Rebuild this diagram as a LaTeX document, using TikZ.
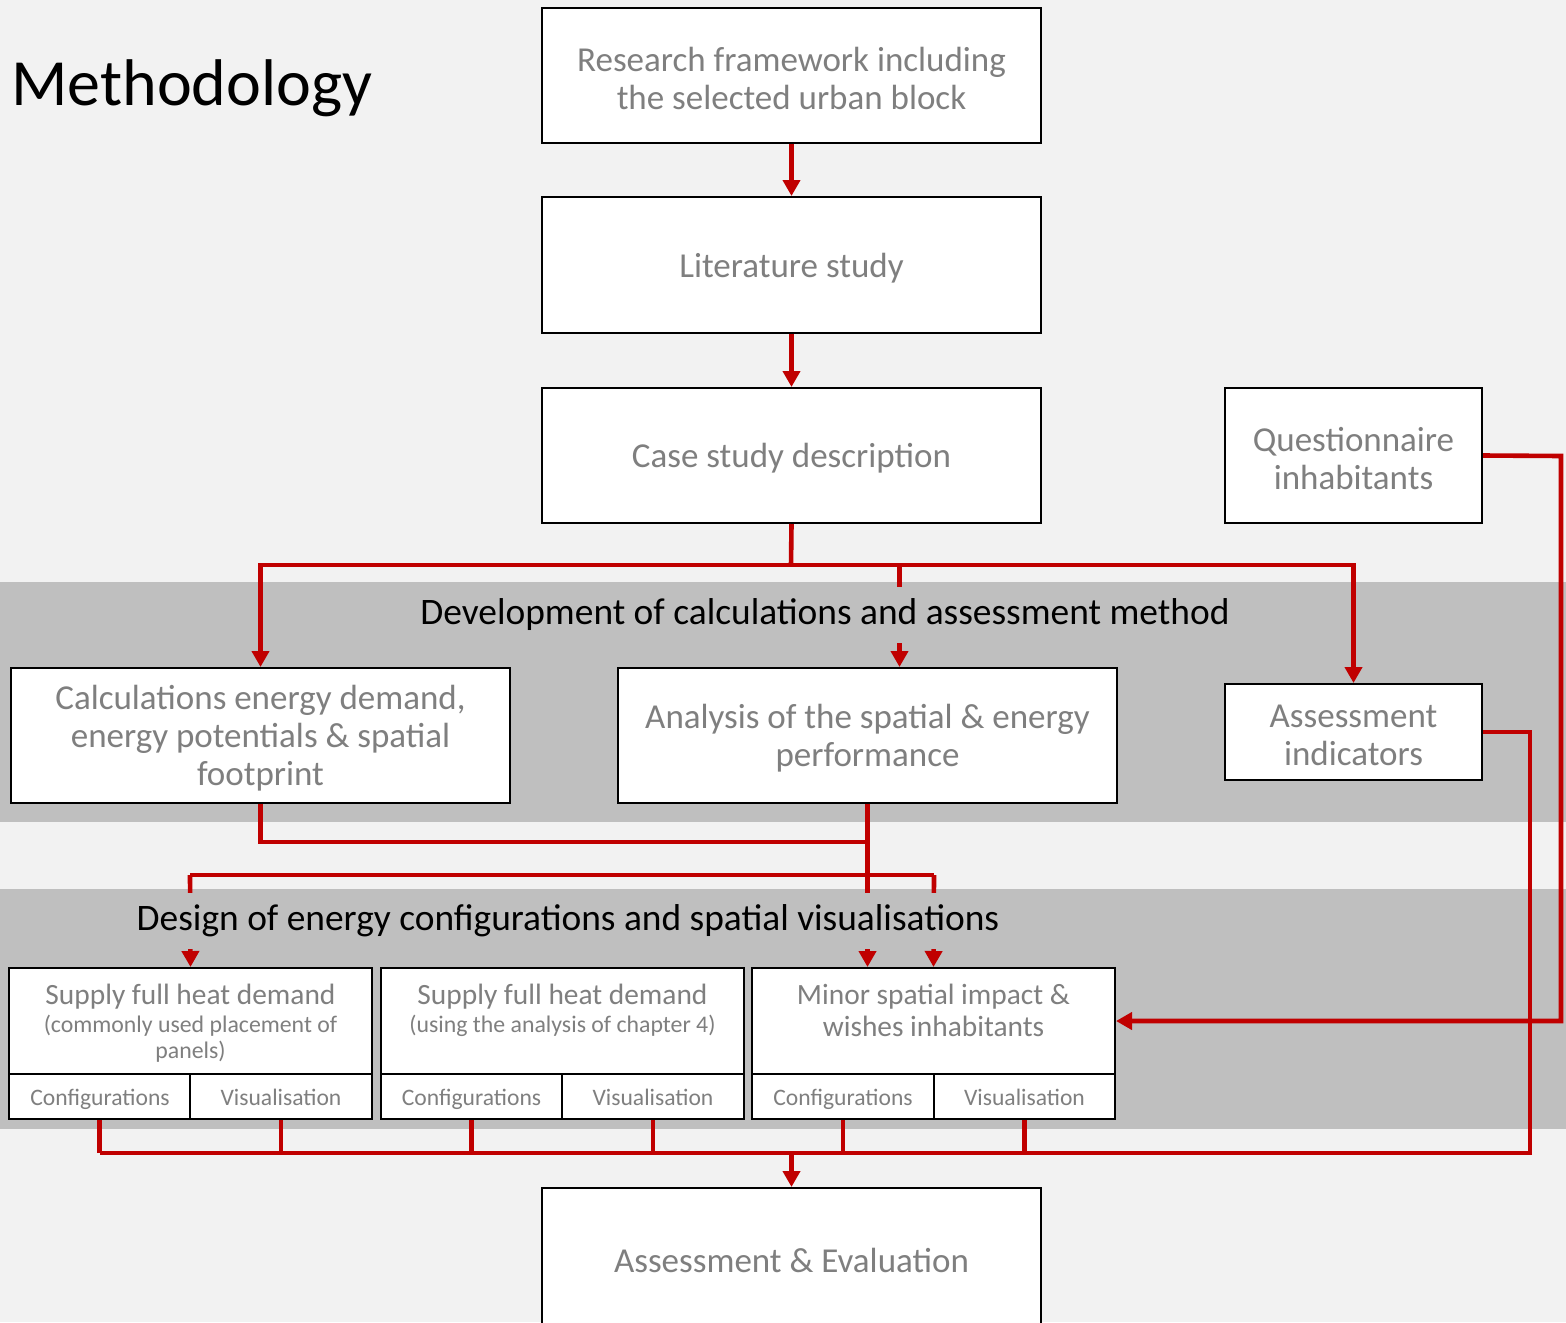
\documentclass[tikz,border=0pt]{standalone}
\usepackage{fontspec}
\setmainfont{Carlito}
\usetikzlibrary{arrows.meta,fit}
\definecolor{bgc}{HTML}{F2F2F2}
\definecolor{bandc}{HTML}{BFBFBF}
\definecolor{redc}{HTML}{C00000}
\definecolor{txtc}{HTML}{7F7F7F}
\tikzset{
  box/.style={draw=black, line width=1pt, fill=white, inner sep=0pt},
  lbl/.style={text=txtc, align=center, inner sep=0pt},
  sublbl/.style={lbl, anchor=base, font=\fontsize{11.8}{13}\selectfont},
  mainlbl/.style={lbl, yshift=-1.5pt, font=\fontsize{17.5}{19}\selectfont},
  conn/.style={draw=redc, line width=2.3pt},
  arr/.style={conn, -{Triangle[width=8.5pt,length=8pt]}},
  heading/.style={fill=bandc, text=black, inner xsep=2pt, inner ysep=6pt, font=\fontsize{18.7}{20}\selectfont}
}
\newcommand{\smallsub}{\fontsize{11.9}{13}\selectfont}
\begin{document}
\begin{tikzpicture}[x=0.5pt,y=-0.5pt]
\fill[bgc] (0,0) rectangle (1566,1322);
\useasboundingbox (0,0) rectangle (1566,1322);
\fill[bandc] (0,582) rectangle (1566,822);
\fill[bandc] (0,889) rectangle (1566,1129);

\node[anchor=base west, inner sep=0pt, font=\fontsize{33}{36}\selectfont] (title) at (11,105) {Methodology};

% boxes
\node[box, fit={(542,8) (1041,143)}] (rf) {};
\node[mainlbl] (rft) at (rf.center) {Research framework including\\the selected urban block};
\node[box, fit={(542,197) (1041,333)}] (lit) {};
\node[mainlbl] (litt) at (lit.center) {Literature study};
\node[box, fit={(542,388) (1041,523)}] (case) {};
\node[mainlbl] (caset) at (case.center) {Case study description};
\node[box, fit={(1225,388) (1482,523)}] (q) {};
\node[mainlbl] (qt) at (q.center) {Questionnaire\\inhabitants};
\node[box, fit={(11,668) (510,803)}] (calc) {};
\node[mainlbl] (calct) at (calc.center) {Calculations energy demand,\\energy potentials \& spatial\\footprint};
\node[box, fit={(618,668) (1117,803)}] (an) {};
\node[mainlbl] (ant) at (an.center) {Analysis of the spatial \& energy\\performance};
\node[box, fit={(1225,684) (1482,780)}] (ai) {};
\node[mainlbl] (ait) at (ai.center) {Assessment\\indicators};
\node[box, fit={(542,1188) (1041,1326)}] (ae) {};
\node[mainlbl] (aet) at (ae.center) {Assessment \& Evaluation};

% design boxes
\node[box, fit={(9,968) (372,1074)}] (aup) {};
\node[lbl, anchor=north, font=\fontsize{14.7}{16}\selectfont] (aupt) at (190.5,984) {Supply full heat demand\\[-2pt]\smallsub (commonly used placement of\\[-3pt]\smallsub panels)};
\node[box, fit={(9,1074) (190,1119)}] (acf) {};
\node[box, fit={(190,1074) (372,1119)}] (avs) {};
\node[sublbl] (acft) at (100,1105) {Configurations};
\node[sublbl] (avst) at (281,1105) {Visualisation};

\node[box, fit={(381,968) (744,1074)}] (bup) {};
\node[lbl, anchor=north, font=\fontsize{14.7}{16}\selectfont] (bupt) at (562.5,984) {Supply full heat demand\\[-2pt]\smallsub (using the analysis of chapter 4)};
\node[box, fit={(381,1074) (562,1119)}] (bcf) {};
\node[box, fit={(562,1074) (744,1119)}] (bvs) {};
\node[sublbl] (bcft) at (471.5,1105) {Configurations};
\node[sublbl] (bvst) at (653,1105) {Visualisation};

\node[box, fit={(752,968) (1115,1074)}] (cup) {};
\node[lbl, anchor=north, font=\fontsize{14.7}{16}\selectfont] (cupt) at (933.5,984) {Minor spatial impact \&\\wishes inhabitants};
\node[box, fit={(752,1074) (934,1119)}] (ccf) {};
\node[box, fit={(934,1074) (1115,1119)}] (cvs) {};
\node[sublbl] (ccft) at (843,1105) {Configurations};
\node[sublbl] (cvst) at (1024.5,1105) {Visualisation};

% junction coordinates
\coordinate (j1) at (791,565);
\coordinate (j2) at (867,842);
\coordinate (j3) at (190,875);
\coordinate (j4) at (934,875);
\coordinate (q1) at (1561,456);
\coordinate (b1) at (100,1153);
\coordinate (b2) at (1530,1153);

% connectors
\draw[arr] (rf.south) -- (lit.north);
\draw[arr] (lit.south) -- (case.north);
\draw[conn] (case.south) -- (j1);
\draw[arr] (j1) -| (calc.north);
\draw[arr] (j1) -| (ai.north);
\draw[arr] (j1) -| ([xshift=16pt]an.north);
\draw[conn] (calc.south) |- (j2);
\draw[arr] (an.south) -- (an.south |- cup.north);
\draw[conn] (j3) -- (j4);
\draw[arr] (j3) -- (aup.north);
\draw[arr] (j4) -- (cup.north);
\draw[arr] (q.east) -- (q1) |- (cup.east);
\draw[conn] (ai.east) -| (b2) -- (b1);
\draw[conn] (acf.south) -- (acf.south |- b1);
\draw[conn] (avs.south) -- (avs.south |- b1);
\draw[conn] (bcf.south) -- (bcf.south |- b1);
\draw[conn] (bvs.south) -- (bvs.south |- b1);
\draw[conn] (ccf.south) -- (ccf.south |- b1);
\draw[conn] (cvs.south) -- (cvs.south |- b1);
\draw[arr] (ae.north |- b1) -- (ae.north);

% headings
\node[heading] (h1) at (825,615) {Development of calculations and assessment method};
\node[heading] (h2) at (568,921) {Design of energy configurations and spatial visualisations};
\end{tikzpicture}
\end{document}
